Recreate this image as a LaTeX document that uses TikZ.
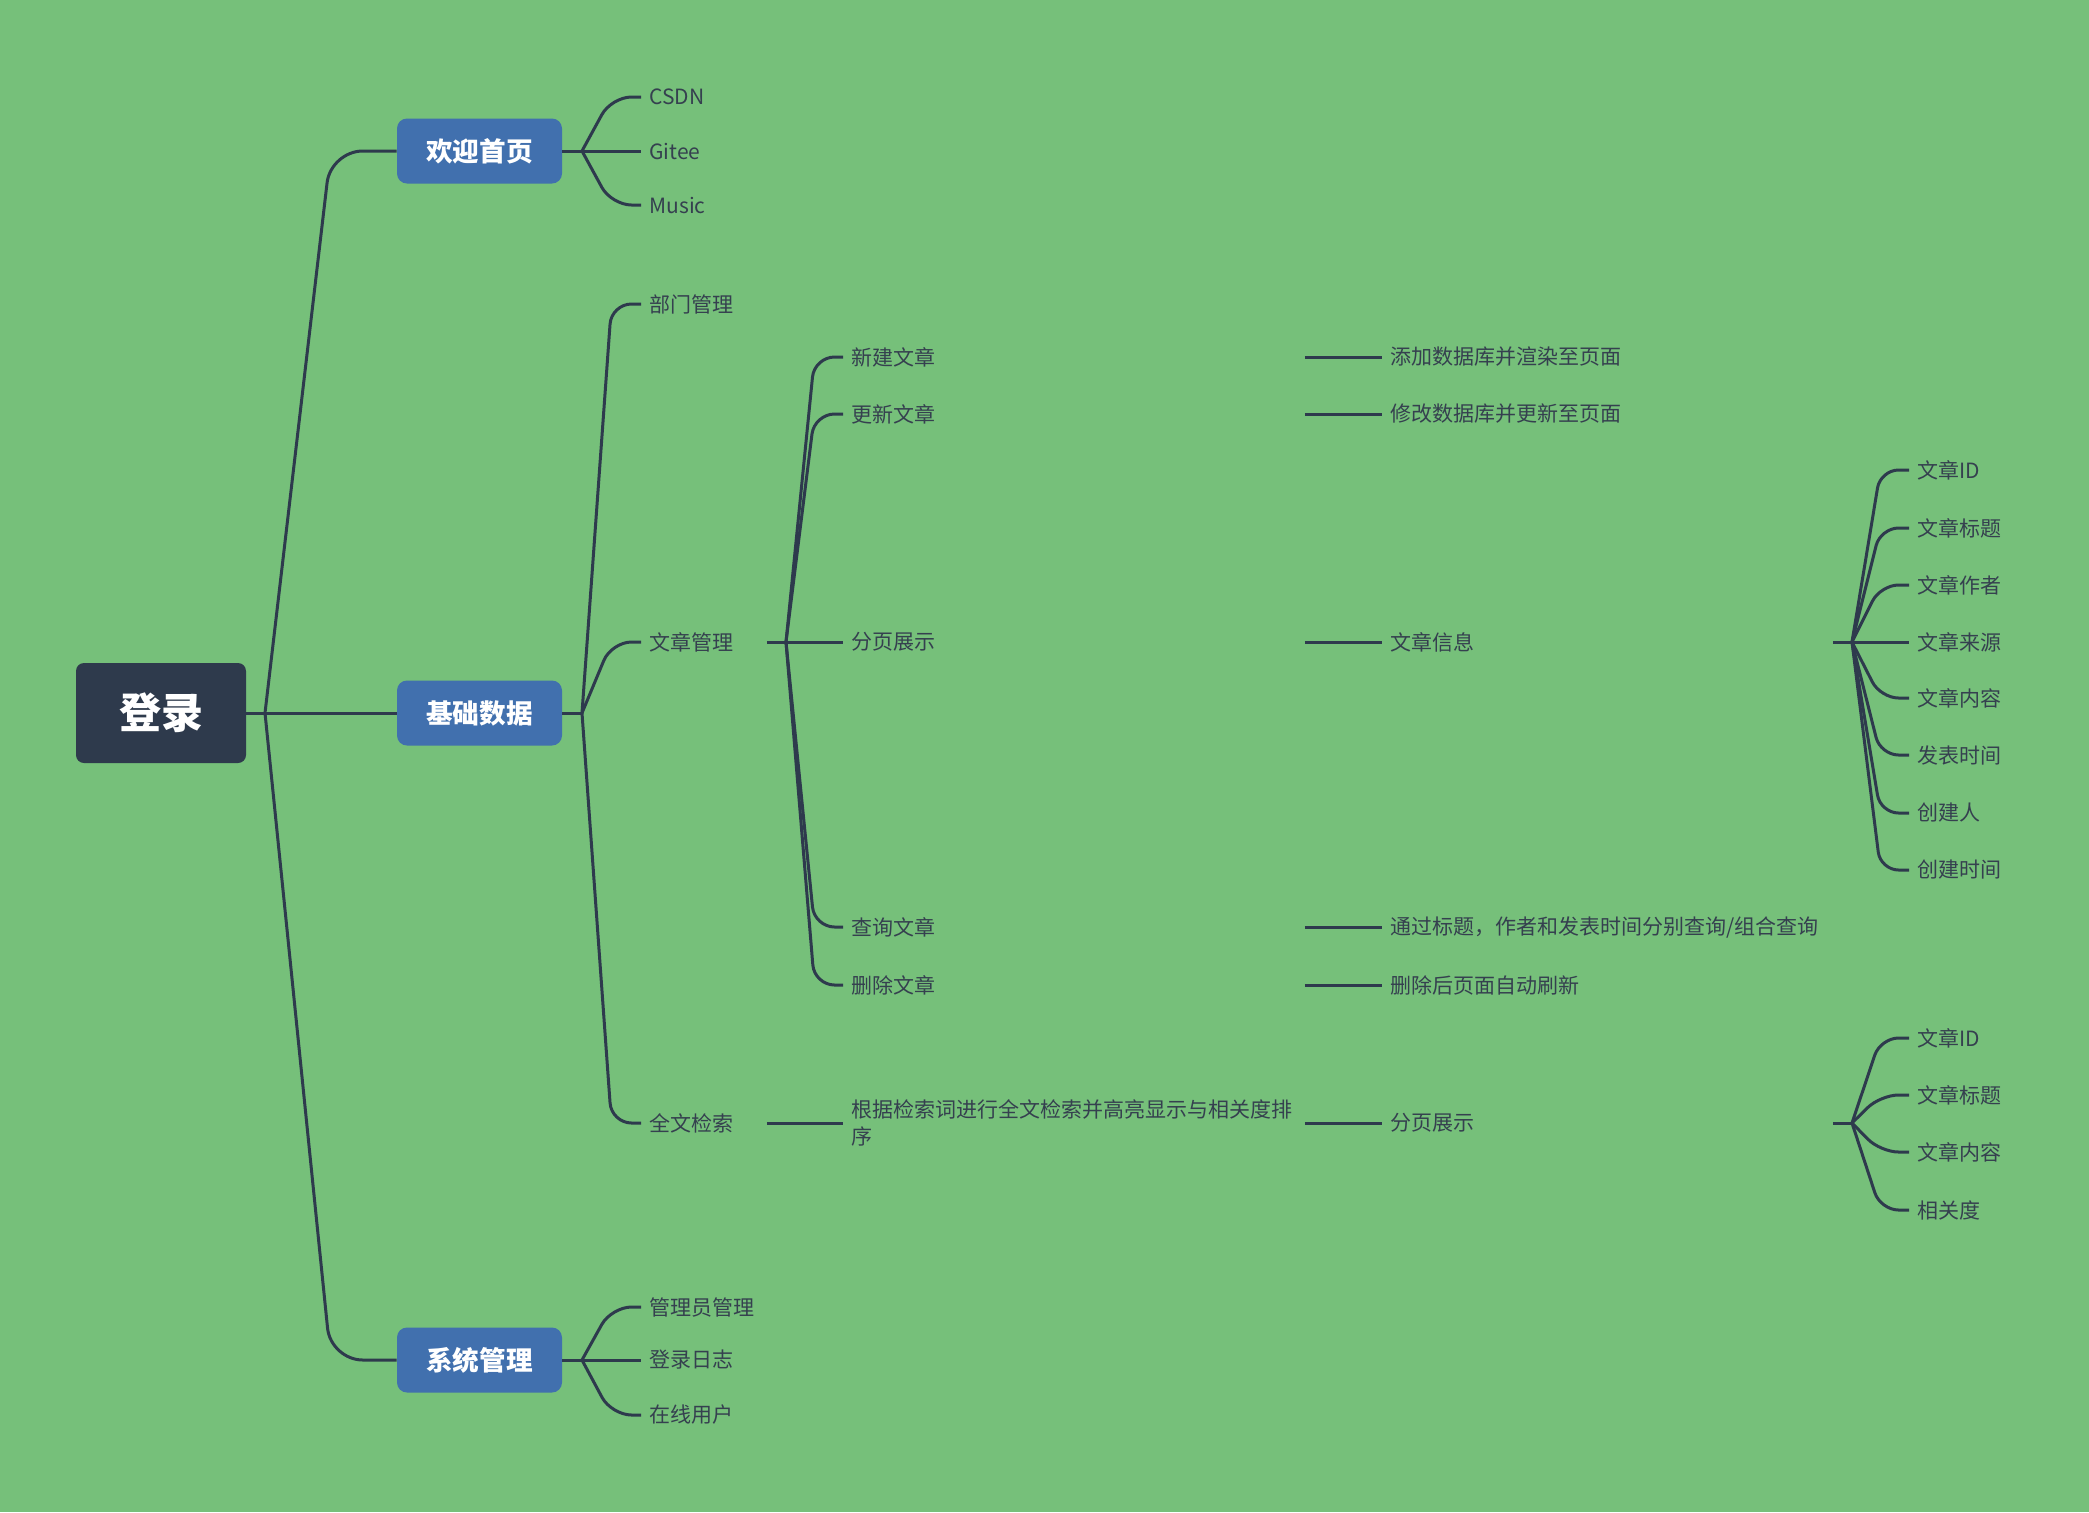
\documentclass[tikz,border=0pt]{standalone}
\usepackage{fontspec}
\setmainfont{Noto Sans CJK SC}
\usetikzlibrary{calc}
\definecolor{bg}{HTML}{76C07A}
\definecolor{ink}{HTML}{2E3A4D}
\definecolor{txt}{HTML}{35404F}
\definecolor{rootc}{HTML}{2E3A4C}
\definecolor{bluec}{HTML}{4170AE}
\newcommand\mmlink[3]{\draw[line, rounded corners=#1] (#2) -- ($(#2 |- #3)!.5!(#3)$) -- (#3);}
\tikzset{
  line/.style={draw=ink, line width=1.5pt, line join=round},
  rootbox/.style={fill=rootc, rounded corners=4pt, minimum width=85pt, minimum height=50pt,
    text=white, font=\fontsize{21pt}{25pt}\selectfont\bfseries, inner sep=0pt},
  topicbox/.style={fill=bluec, rounded corners=5pt, minimum width=82.5pt, minimum height=32.5pt,
    text=white, font=\fontsize{13.3pt}{16pt}\selectfont\bfseries, inner sep=0pt},
  leaf/.style={anchor=west, inner sep=4pt, text=txt, font=\fontsize{10.5pt}{13.3pt}\selectfont},
  colA/.style={leaf, text width=54.5pt, align=left},
  colB/.style={leaf, text width=222.5pt, align=left},
  colC/.style={leaf, text width=217pt, align=left},
}
\begin{document}
\begin{tikzpicture}[x=0.5pt,y=-0.5pt]
\fill[bg] (0,0) rectangle (2089,1512);
\useasboundingbox (0,0) rectangle (2089,1512);

% main nodes
\node[rootbox] (root) at (161,713) {登录};
\node[topicbox] (hy) at (479.5,151) {欢迎首页};
\node[topicbox] (jc) at (479.5,713) {基础数据};
\node[topicbox] (xt) at (479.5,1360) {系统管理};

% junctions
\coordinate (j0) at (265,713);
\coordinate (jhy) at (582,151);
\coordinate (jjc) at (582,713);
\coordinate (jxt) at (582,1360);
\coordinate (jwz) at (786,642);
\coordinate (jxx) at (1852,642);
\coordinate (jfy) at (1852,1123);

% column A
\node[leaf] (csdn) at (641,97) {CSDN};
\node[leaf] (gitee) at (641,151) {Gitee};
\node[leaf] (music) at (641,205) {Music};
\node[leaf] (bm) at (641,304) {部门管理};
\node[colA] (wz) at (641,642) {文章管理};
\node[colA] (qw) at (641,1123) {全文检索};
\node[leaf] (gly) at (641,1307) {管理员管理};
\node[leaf] (dl) at (641,1360) {登录日志};
\node[leaf] (zx) at (641,1415) {在线用户};

% column B
\node[colB] (xj) at (843,357) {新建文章};
\node[colB] (gx) at (843,414) {更新文章};
\node[colB] (fy) at (843,642) {分页展示};
\node[colB] (cx) at (843,927) {查询文章};
\node[colB] (sc) at (843,985) {删除文章};
\node[colB] (gj) at (843,1123) {根据检索词进行全文检索并高亮显示与相关度排\\序};

% column C
\node[leaf] (tj) at (1382,357) {添加数据库并渲染至页面};
\node[leaf] (xg) at (1382,414) {修改数据库并更新至页面};
\node[colC] (xx) at (1382,642) {文章信息};
\node[leaf] (tg) at (1382,927) {通过标题，作者和发表时间分别查询/组合查询};
\node[leaf] (sh) at (1382,985) {删除后页面自动刷新};
\node[colC] (fy2) at (1382,1123) {分页展示};

% column D
\node[leaf] (d1) at (1909,470) {文章ID};
\node[leaf] (d2) at (1909,528) {文章标题};
\node[leaf] (d3) at (1909,585) {文章作者};
\node[leaf] (d4) at (1909,642) {文章来源};
\node[leaf] (d5) at (1909,698) {文章内容};
\node[leaf] (d6) at (1909,755) {发表时间};
\node[leaf] (d7) at (1909,813) {创建人};
\node[leaf] (d8) at (1909,870) {创建时间};
\node[leaf] (e1) at (1909,1038) {文章ID};
\node[leaf] (e2) at (1909,1095) {文章标题};
\node[leaf] (e3) at (1909,1152) {文章内容};
\node[leaf] (e4) at (1909,1210) {相关度};

% connectors
\draw[line] (root.east) -- (j0);
\mmlink{16pt}{j0}{hy.west}
\mmlink{16pt}{j0}{jc.west}
\mmlink{16pt}{j0}{xt.west}

\draw[line] (hy.east) -- (jhy);
\mmlink{10pt}{jhy}{csdn.west}
\mmlink{10pt}{jhy}{gitee.west}
\mmlink{10pt}{jhy}{music.west}

\draw[line] (jc.east) -- (jjc);
\mmlink{10pt}{jjc}{bm.west}
\mmlink{10pt}{jjc}{wz.west}
\mmlink{10pt}{jjc}{qw.west}

\draw[line] (xt.east) -- (jxt);
\mmlink{10pt}{jxt}{gly.west}
\mmlink{10pt}{jxt}{dl.west}
\mmlink{10pt}{jxt}{zx.west}

\draw[line] (wz.east) -- (jwz);
\mmlink{10pt}{jwz}{xj.west}
\mmlink{10pt}{jwz}{gx.west}
\mmlink{10pt}{jwz}{fy.west}
\mmlink{10pt}{jwz}{cx.west}
\mmlink{10pt}{jwz}{sc.west}

\draw[line] (qw.east) -- (gj.west);
\draw[line] (xj.east) -- (tj.west);
\draw[line] (gx.east) -- (xg.west);
\draw[line] (fy.east) -- (xx.west);
\draw[line] (cx.east) -- (tg.west);
\draw[line] (sc.east) -- (sh.west);
\draw[line] (gj.east) -- (fy2.west);

\draw[line] (xx.east) -- (jxx);
\foreach \n in {d1,d2,d3,d4,d5,d6,d7,d8}{\mmlink{9pt}{jxx}{\n.west}}
\draw[line] (fy2.east) -- (jfy);
\foreach \n in {e1,e2,e3,e4}{\mmlink{9pt}{jfy}{\n.west}}
\end{tikzpicture}
\end{document}
